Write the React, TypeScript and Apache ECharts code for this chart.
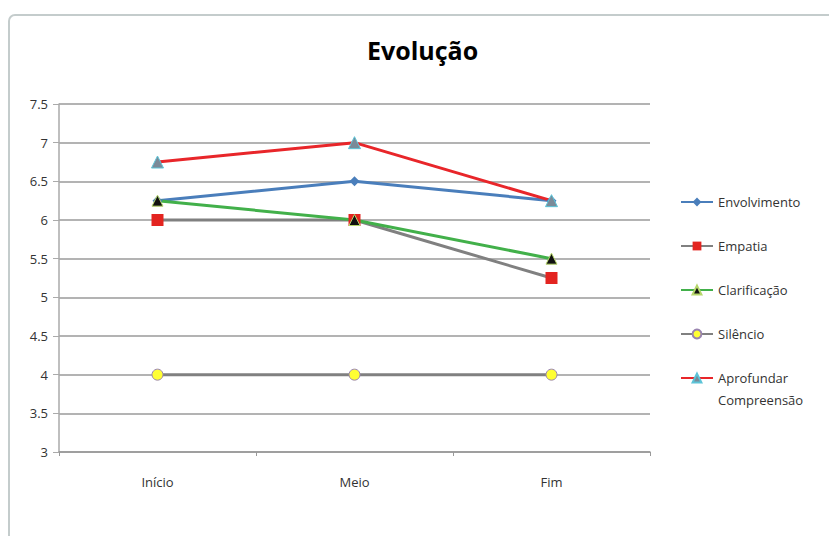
import React, { useEffect, useRef } from "react";
import * as echarts from "echarts";

const categories = ["Início", "Meio", "Fim"];
const yTicks = { min: 3, max: 7.5, interval: 0.5 };

const envolvimento = [6.25, 6.5, 6.25];
const empatia = [6, 6, 5.25];
const clarificacao = [6.25, 6, 5.5];
const silencio = [4, 4, 4];
const aprofundar = [6.75, 7, 6.25];

const seriesNames = ["Envolvimento", "Empatia", "Clarificação", "Silêncio", "Aprofundar Compreensão"];

export default function App() {
  const ref = useRef<HTMLDivElement>(null);
  useEffect(() => {
    if (!ref.current) return;
    const chart = echarts.init(ref.current, undefined, { renderer: "svg" });
    const font = "'Open Sans', 'Noto Sans', sans-serif";
    const mk = (
      name: string,
      data: number[],
      lineColor: string,
      symbol: string,
      symbolSize: number,
      fill: string,
      border: string,
      borderWidth: number
    ) => ({
      name,
      type: "line",
      data,
      symbol,
      symbolSize,
      lineStyle: { color: lineColor, width: 3 },
      itemStyle: { color: fill, borderColor: border, borderWidth },
      emphasis: { disabled: true },
    });
    chart.setOption({
      animation: false,
      backgroundColor: "#ffffff",
      title: {
        text: "Evolução",
        left: 362,
        top: 32,
        textStyle: { fontFamily: font, fontSize: 25, fontWeight: "bold", color: "#000" },
      },
      graphic: [
        {
          type: "rect",
          shape: { x: 9, y: 15, width: 900, height: 600, r: 6 },
          style: { fill: "none", stroke: "#c4cccc", lineWidth: 2 },
          silent: true,
          z: -1,
        },
      ],
      grid: { left: 59, right: 179, top: 104, bottom: 84 },
      legend: [
        {
          orient: "vertical",
          left: 680,
          top: 191,
          padding: 0,
          itemGap: 22,
          itemWidth: 32,
          itemHeight: 11,
          data: seriesNames.slice(0, 4),
          textStyle: { fontFamily: font, fontSize: 13, color: "#333", lineHeight: 22 },
        },
        {
          orient: "vertical",
          left: 680,
          top: 345,
          padding: 0,
          itemWidth: 32,
          itemHeight: 11,
          data: [seriesNames[4]],
          formatter: () => "\nAprofundar\nCompreensão",
          textStyle: { fontFamily: font, fontSize: 13, color: "#333", lineHeight: 22 },
        },
      ],
      xAxis: {
        type: "category",
        data: categories,
        boundaryGap: true,
        axisLine: { lineStyle: { color: "#999", width: 1.5 } },
        axisTick: { show: true, length: 4, lineStyle: { color: "#999" } },
        axisLabel: { fontFamily: font, fontSize: 13, color: "#333", margin: 23 },
      },
      yAxis: {
        type: "value",
        min: yTicks.min,
        max: yTicks.max,
        interval: yTicks.interval,
        axisLine: { show: true, lineStyle: { color: "#aaa", width: 1.5 } },
        axisTick: { show: true, length: 6, lineStyle: { color: "#aaa" } },
        axisLabel: { fontFamily: font, fontSize: 13, color: "#333", margin: 11 },
        splitLine: { lineStyle: { color: "#9a9a9a", width: 1.5 } },
      },
      series: [
        mk(seriesNames[0], envolvimento, "#4a7ebb", "diamond", 10, "#4a7ebb", "#4a7ebb", 0),
        mk(seriesNames[1], empatia, "#808080", "rect", 12, "#e32420", "#e32420", 0),
        mk(seriesNames[2], clarificacao, "#42b04a", "triangle", 11, "#111", "#b5d66a", 1),
        mk(seriesNames[3], silencio, "#808080", "circle", 11, "#ffff33", "#9a85b0", 1),
        mk(seriesNames[4], aprofundar, "#e8262a", "triangle", 12, "#7a8a98", "#5cc4d8", 1),
      ],
    });
    return () => chart.dispose();
  }, []);
  return (
    <div
      ref={ref}
      style={{ position: "fixed", left: 0, top: 0, width: 829, height: 536 }}
    />
  );
}
